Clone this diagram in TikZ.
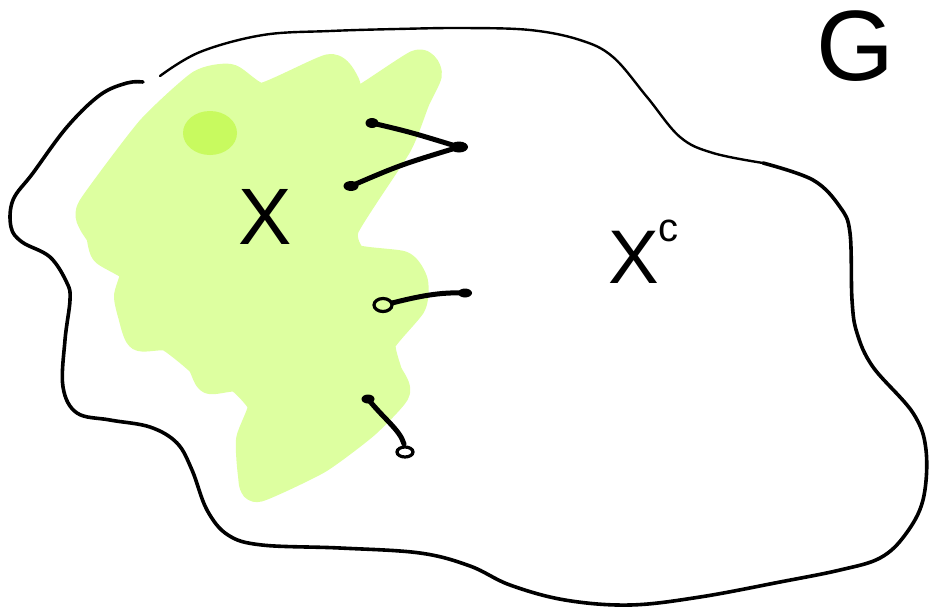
\documentclass[tikz,border=0pt]{standalone}
\usepackage{fontspec}
\setmainfont{Liberation Sans}
\definecolor{greenL}{RGB}{221,255,160}
\definecolor{greenD}{RGB}{200,250,95}
\tikzset{
  outline/.style={draw=black,line width=3.6pt,line cap=round,line join=round},
  blob/.style={fill=greenL,draw=greenL,line width=28pt,line join=round},
  edgeline/.style={draw=black,line width=5pt,line cap=round},
  enddot/.style={fill=black},
  endloop/.style={draw=black,fill=greenL,line width=3.2pt},
  lbl/.style={inner sep=0pt,text=black}
}
\begin{document}
\begin{tikzpicture}[x=1pt,y=-1pt]
\useasboundingbox (0,0) rectangle (931,611);
% green region X
\path[blob] plot[smooth cycle,tension=0.35] coordinates {
 (92,207) (150,130) (200,84) (230,78) (262,97) (330,68) (346,84) (352,105)
 (417,64) (428,74) (416,100) (398,145) (345,228) (354,258) (402,265) (414,282)
 (412,305) (382,342) (388,372) (396,392) (365,425) (318,460) (258,488) (252,475)
 (250,440) (262,405) (238,378) (210,380) (200,362) (168,337) (140,337) (132,315)
 (128,296) (134,270) (105,252) (100,235) (92,222)};
\fill[greenD] (210,133) ellipse [x radius=27, y radius=22];
% outline of G
\draw[outline,line width=2.4pt] plot[smooth,tension=0.6] coordinates {
 (160,76) (200,52) (263,35) (330,31) (397,29) (463,28) (530,30) (580,40)
 (613,57) (647,97) (680,137) (713,153) (763,163)};
\draw[outline] plot[smooth,tension=0.6] coordinates {
 (763,163) (813,180) (840,207) (850,233) (852,300) (857,333) (873,367) (913,413)
 (926,450) (923,500) (905,535) (880,558) (840,570) (780,582) (700,597) (630,605)
 (565,600) (510,585) (470,566) (420,553) (340,548) (262,545) (228,535) (207,510)
 (192,470) (177,443) (150,427) (110,420) (77,413) (63,387) (65,340) (70,300)
 (67,283) (50,257) (22,242) (11,227) (13,200) (33,173) (67,127) (100,95) (127,83) (143,82)};
% edges
\coordinate (e1a) at (372,123);
\coordinate (e1b) at (459,147);
\coordinate (e2a) at (351,186);
\coordinate (e3a) at (383,305);
\coordinate (e3s) at (392,303);
\coordinate (e3b) at (465,293);
\coordinate (e4a) at (368,399);
\coordinate (e4b) at (405,452);
\coordinate (e4s) at (404,444);
\draw[edgeline] (e1a) .. controls (410,132) .. (e1b);
\draw[edgeline] (e2a) .. controls (400,165) .. (e1b);
\draw[edgeline] (e3s) .. controls (420,296) and (440,292) .. (e3b);
\draw[edgeline] (e4a) .. controls (385,420) and (400,430) .. (e4s);
\fill[enddot] (e1a) ellipse [x radius=6.5, y radius=5];
\fill[enddot] (e1b) ellipse [x radius=9, y radius=5.5];
\fill[enddot] (e2a) ellipse [x radius=7.5, y radius=5];
\fill[enddot] (e3b) ellipse [x radius=7, y radius=4.5];
\fill[enddot] (e4a) ellipse [x radius=6.5, y radius=4.5];
\draw[endloop] (e3a) ellipse [x radius=9, y radius=6.5];
\draw[endloop,fill=white] (e4b) ellipse [x radius=8, y radius=5];
% labels
\node[lbl,font=\fontsize{100}{100}\selectfont] (G) at (855,46) {G};
\node[lbl,font=\fontsize{80}{80}\selectfont] (X) at (265,217) {X};
\node[lbl,font=\fontsize{76}{76}\selectfont,anchor=base west] (Xc) at (608,283) {X\raisebox{42pt}{\fontsize{40}{40}\selectfont c}};
\end{tikzpicture}
\end{document}
